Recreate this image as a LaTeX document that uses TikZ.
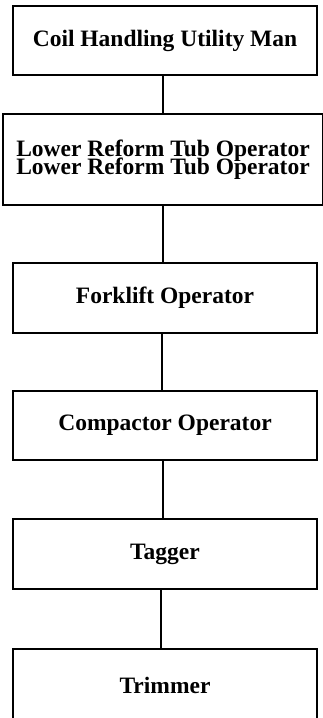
\documentclass[tikz,border=0pt]{standalone}
\usepackage{fontspec}
\setmainfont{Liberation Serif}
\begin{document}
\begin{tikzpicture}[x=1pt,y=-1pt,line join=miter,
    job/.style={draw,line width=1.4pt,inner sep=0pt,minimum width=304pt,minimum height=69pt,
      font=\fontsize{23.5}{18}\selectfont\bfseries,align=center},
    link/.style={line width=1.3pt}]
    \useasboundingbox (0,0) rectangle (322,718);
    \def\xc{165}
    \node[job] (coil) at (\xc,40.5) {Coil Handling Utility Man};
    \node[job,minimum width=320pt,minimum height=91pt] (lower) at (163,159.5)
        {Lower Reform Tub Operator\\[-4pt]Lower Reform Tub Operator};
    \node[job,minimum height=70pt] (forklift) at (\xc,298) {Forklift Operator};
    \node[job] (compactor) at (\xc,425.5) {Compactor Operator};
    \node[job,minimum height=70pt] (tagger) at (\xc,554) {Tagger};
    \node[job,minimum height=72pt] (trimmer) at (\xc,685) {Trimmer};
    \draw[link] ([xshift=-2pt]coil.south) -- ([xshift=-2pt]coil.south |- lower.north);
    \draw[link] (lower.south) -- (lower.south |- forklift.north);
    \draw[link] ([xshift=-3pt]forklift.south) -- ([xshift=-3pt]forklift.south |- compactor.north);
    \draw[link] ([xshift=-2pt]compactor.south) -- ([xshift=-2pt]compactor.south |- tagger.north);
    \draw[link] ([xshift=-4pt]tagger.south) -- ([xshift=-4pt]tagger.south |- trimmer.north);
\end{tikzpicture}
\end{document}
